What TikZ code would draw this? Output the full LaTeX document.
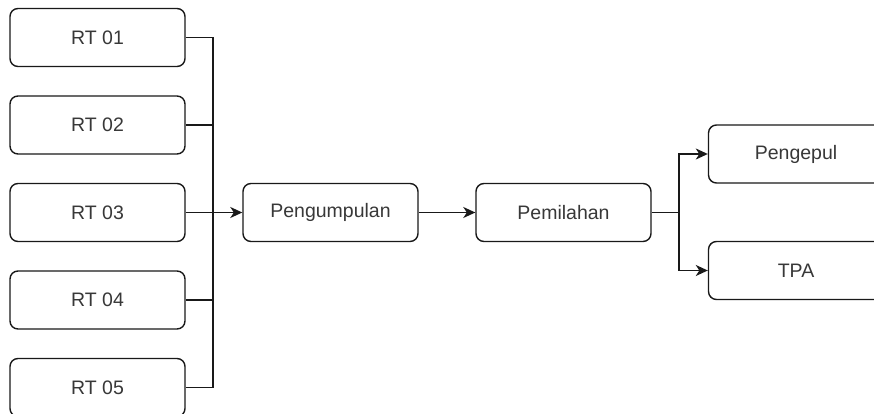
\documentclass[tikz,border=0pt]{standalone}
\usepackage{fontspec}
\setmainfont{Liberation Sans}
\usetikzlibrary{arrows.meta}
\begin{document}
\begin{tikzpicture}[x=1pt,y=-1pt,
    box/.style={draw=black!90,fill=white,line width=1.4pt,rounded corners=8pt,
        minimum width=175pt,minimum height=58pt,inner sep=0pt,
        text=black!78,font=\fontsize{19.5}{22}\selectfont},
    link/.style={draw=black!90,line width=1.6pt},
    arr/.style={link,-{Stealth[length=12pt,width=11pt,inset=3.5pt]}}]
    \useasboundingbox (0,0) rectangle (874,414);
    \clip (0,0) rectangle (874,414);
    \node[box] (rt1) at (97.5,37.5) {RT 01};
    \node[box] (rt2) at (97.5,125) {RT 02};
    \node[box] (rt3) at (97.5,212.5) {RT 03};
    \node[box] (rt4) at (97.5,300) {RT 04};
    \node[box] (rt5) at (97.5,387.5) {RT 05};
    \node[box] (kumpul) at (330.5,212.5) {Pengumpulan};
    \node[box] (pilah) at (563.5,212.5) {Pemilahan};
    \node[box] (pengepul) at (796,154) {Pengepul};
    \node[box] (tpa) at (796,270.5) {TPA};
    \coordinate (bus) at (213,212.5);
    \coordinate (split) at (679,212.5);
    \draw[link] (rt1.east) -| (bus) |- (rt5.east);
    \draw[link] (rt2.east) -- (rt2.east -| bus);
    \draw[link] (rt4.east) -- (rt4.east -| bus);
    \draw[arr] (rt3.east) -- (kumpul.west);
    \draw[arr] (kumpul.east) -- (pilah.west);
    \draw[link] (pilah.east) -- (split);
    \draw[arr] (split) |- (pengepul.west);
    \draw[arr] (split) |- (tpa.west);
\end{tikzpicture}
\end{document}
